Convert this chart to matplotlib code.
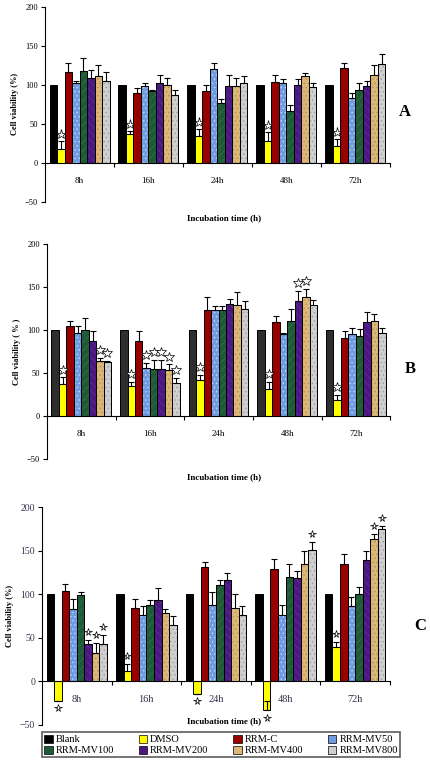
import numpy as np
import matplotlib
matplotlib.use('Agg')
import matplotlib.pyplot as plt
from matplotlib.patches import Patch

plt.rcParams['font.family'] = ['Liberation Serif', 'DejaVu Serif']
plt.rcParams['hatch.linewidth'] = 0.45

times = ['8h', '16h', '24h', '48h', '72h']
series = ['Blank', 'DMSO', 'RRM-C', 'RRM-MV50', 'RRM-MV100', 'RRM-MV200', 'RRM-MV400', 'RRM-MV800']

# rows = series, columns = time points
vals_a = [[100, 100, 100, 100, 100],
          [18, 37, 34, 28, 22],
          [117, 89, 92, 104, 122],
          [103, 99, 120, 103, 83],
          [118, 92, 77, 66, 94],
          [109, 102, 99, 100, 99],
          [111, 100, 99, 112, 113],
          [105, 87, 103, 97, 127]]
err_a = [[0, 0, 0, 0, 0],
         [10, 4, 9, 11, 9],
         [11, 7, 8, 9, 6],
         [2, 4, 8, 4, 7],
         [17, 1, 5, 8, 8],
         [10, 11, 14, 7, 6],
         [14, 9, 10, 3, 13],
         [12, 6, 9, 6, 12]]
stars_a = [[], [0, 1, 2, 3, 4], [], [], [], [], [], []]

vals_b = [[100, 100, 100, 100, 100],
          [37, 35, 42, 32, 19],
          [105, 87, 123, 109, 91],
          [97, 56, 123, 95, 96],
          [100, 55, 123, 111, 93],
          [87, 55, 130, 134, 109],
          [64, 53, 129, 139, 111],
          [63, 38, 125, 129, 97]]
err_b = [[0, 0, 0, 0, 0],
         [8, 5, 6, 8, 6],
         [6, 12, 16, 7, 8],
         [8, 6, 5, 2, 7],
         [14, 10, 5, 13, 8],
         [12, 10, 6, 12, 12],
         [4, 7, 15, 9, 8],
         [1, 6, 9, 6, 5]]
stars_b = [[], [0, 1, 2, 3, 4], [], [1], [1], [1, 3], [0, 1, 3], [0, 1]]

vals_c = [[100, 100, 100, 100, 100],
          [-22, 12, -14, -33, 39],
          [104, 84, 131, 129, 135],
          [83, 76, 88, 76, 86],
          [99, 88, 111, 120, 100],
          [43, 93, 116, 119, 139],
          [32, 79, 84, 135, 163],
          [43, 65, 76, 151, 175]]
err_c = [[0, 0, 0, 0, 0],
         [0, 8, 0, 10, 6],
         [8, 10, 6, 11, 11],
         [11, 11, 15, 12, 11],
         [4, 5, 5, 15, 8],
         [5, 14, 8, 8, 11],
         [12, 4, 16, 15, 6],
         [10, 10, 11, 9, 3]]
stars_c = [[], [0, 1, 2, 3, 4], [], [], [], [0], [0, 4], [0, 3, 4]]

colors = ['#000000', '#ffff00', '#990000', '#6f9be0', '#1d5a35', '#4b1780', '#dbb877', '#cfcfcf']
hatch_cols = [None, None, None, '#c6dbff', '#3a7550', '#63339b', '#b08c52', '#999999']
hatches = [None, None, None, '....', '////', '\\\\\\\\', '....', '....']

fig = plt.figure(figsize=(4.3, 7.62), dpi=100)


def panel(rect, vals, errs, stars, letter, letter_xy, ylab, xlab_y, blank_col, tick_col, tick_fs, star_size):
    ax = fig.add_axes(rect)
    x = np.arange(len(times))
    w = 0.87 / len(series)
    for i in range(len(series)):
        pos = x - 0.435 + w * (i + 0.5)
        v = np.array(vals[i], dtype=float)
        e = np.array(errs[i], dtype=float)
        c = blank_col if i == 0 else colors[i]
        ax.bar(pos, v, w, color=c, edgecolor='black', linewidth=0.7, zorder=2)
        if hatches[i]:
            ax.bar(pos, v, w, fill=False, edgecolor=hatch_cols[i], hatch=hatches[i],
                   linewidth=0, zorder=2.5)
            ax.bar(pos, v, w, fill=False, edgecolor='black', linewidth=0.7, zorder=2.6)
        if i > 0:
            ax.errorbar(pos, v, yerr=[np.zeros_like(e), e], fmt='none', ecolor='black',
                        elinewidth=0.8, capsize=2, capthick=0.8, zorder=3)
        for j in stars[i]:
            if v[j] < 0:
                sy = v[j] - 9
            else:
                sy = v[j] + e[j] + 9
            ax.plot(pos[j], sy, marker='*', markersize=star_size, markerfacecolor='white',
                    markeredgecolor='black', markeredgewidth=0.5, zorder=4)
    ax.set_xlim(-0.5, len(times) - 0.5)
    ax.set_ylim(-50, 200)
    ax.set_yticks([-50, 0, 50, 100, 150, 200])
    ax.spines['top'].set_visible(False)
    ax.spines['right'].set_visible(False)
    ax.spines['bottom'].set_position(('data', 0))
    ax.spines['left'].set_linewidth(0.8)
    ax.spines['bottom'].set_linewidth(0.8)
    ax.set_xticks(x)
    ax.set_xticklabels(times)
    ax.set_xticks(np.arange(0.5, len(times), 1.0), minor=True)
    ax.tick_params(axis='x', which='major', length=0, pad=10, labelsize=tick_fs, labelcolor=tick_col)
    ax.tick_params(axis='x', which='minor', length=3, width=0.8, direction='out')
    ax.tick_params(axis='y', length=3, width=0.8, direction='out', labelsize=tick_fs - 0.5,
                   labelcolor=tick_col, pad=2)
    ax.set_ylabel(ylab, fontsize=6, fontweight='bold', labelpad=4)
    fig.text(0.52, xlab_y, 'Incubation time (h)', ha='center', va='center',
             fontsize=6.5, fontweight='bold')
    fig.text(letter_xy[0], letter_xy[1], letter, ha='center', va='center',
             fontsize=12, fontweight='bold')
    return ax


panel([0.1047, 0.735, 0.802, 0.256], vals_a, err_a, stars_a, 'A', (0.942, 1 - 112 / 762),
      'Cell viability (%)', 1 - 218 / 762, '#000000', 'black', 6.5, 6.5)
panel([0.1093, 0.3976, 0.798, 0.282], vals_b, err_b, stars_b, 'B', (0.953, 1 - 369 / 762),
      'Cell viability ( % )', 1 - 477 / 762, '#2e2e2e', 'black', 6.5, 7)
panel([0.0977, 0.0486, 0.809, 0.286], vals_c, err_c, stars_c, 'C', (0.977, 1 - 626 / 762),
      'Cell viability (%)', 1 - 721 / 762, '#000000', '#3a2f4f', 7.5, 5.5)

handles = []
for i in range(len(series)):
    handles.append(Patch(facecolor=colors[i], edgecolor='black', linewidth=0.5, label=series[i]))
order = [0, 4, 1, 5, 2, 6, 3, 7]
leg = fig.legend([handles[k] for k in order], [series[k] for k in order],
                 loc='lower left', bbox_to_anchor=(0.098, 0.006, 0.832, 0.039),
                 mode='expand', ncol=4, fontsize=7.5, frameon=True, fancybox=False,
                 handlelength=0.8, handleheight=0.8, handletextpad=0.3,
                 borderpad=0.2, labelspacing=0.15, columnspacing=0.5, borderaxespad=0)
leg.get_frame().set_edgecolor('#333333')
leg.get_frame().set_linewidth(1.2)

fig.savefig('out.png', dpi=100, facecolor='white')
